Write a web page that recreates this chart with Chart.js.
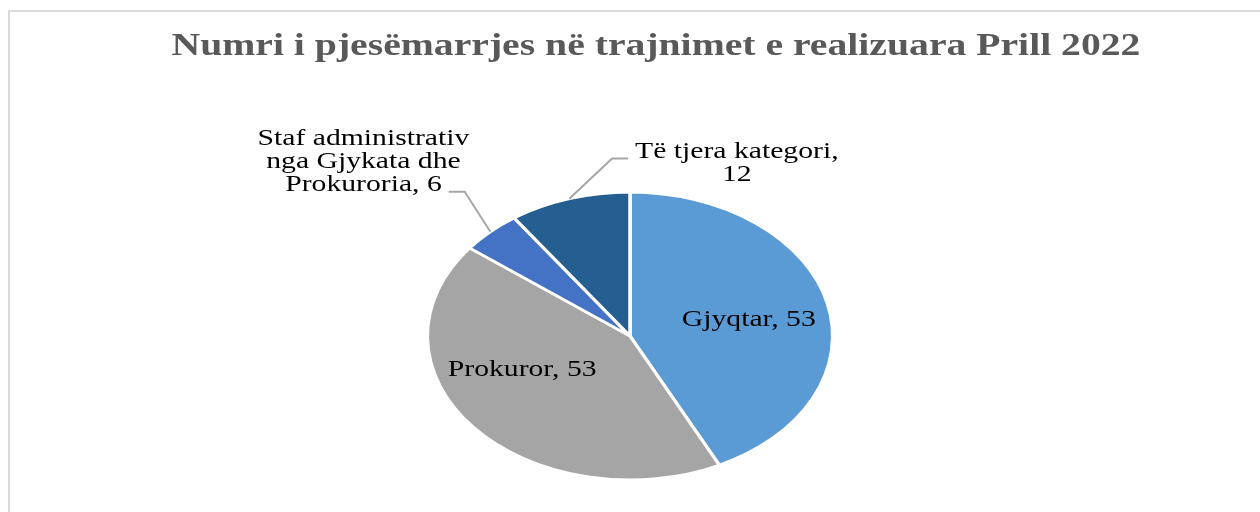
<!DOCTYPE html>
<html>
<head>
<meta charset="utf-8">
<script src="https://cdn.jsdelivr.net/npm/chart.js@4"></script>
<style>
  html, body { margin: 0; padding: 0; background: #fff; }
  canvas { display: block; }
</style>
</head>
<body>
<canvas id="chart" width="1260" height="512"></canvas>
<script>
const chartTitle = "Numri i pjesëmarrjes në trajnimet e realizuara Prill 2022";
const categories = ["Gjyqtar", "Prokuror", "Staf administrativ nga Gjykata dhe Prokuroria", "Të tjera kategori"];
const participants = [53, 53, 6, 12];
const sliceColors = ["#5B9BD5", "#A5A5A5", "#4472C4", "#255E91"];

// label text, split in lines the way the original wraps them
const labelLines = [
  [`${categories[0]}, ${participants[0]}`],
  [`${categories[1]}, ${participants[1]}`],
  ["Staf administrativ", "nga Gjykata dhe", `Prokuroria, ${participants[2]}`],
  [`${categories[3]},`, `${participants[3]}`],
];

const STRETCH = 1.41; // the original pie is drawn wider than tall

const serif = "'Liberation Serif', 'Times New Roman', serif";

function drawScaledText(ctx, text, x, y, sx) {
  ctx.save();
  ctx.translate(x, y);
  ctx.scale(sx, 1);
  ctx.fillText(text, 0, 0);
  ctx.restore();
}

const ellipsePie = {
  id: "ellipsePie",
  beforeDraw(chart) {
    const ctx = chart.ctx;
    ctx.save();
    ctx.strokeStyle = "#d9d9d9";
    ctx.lineWidth = 2;
    ctx.strokeRect(9, 11, chart.width + 20, chart.height + 20);
    ctx.restore();
  },
  beforeDatasetsDraw(chart) {
    const arc = chart.getDatasetMeta(0).data[0];
    const ctx = chart.ctx;
    ctx.save();
    ctx.translate(arc.x, 0);
    ctx.scale(STRETCH, 1);
    ctx.translate(-arc.x, 0);
  },
  afterDatasetsDraw(chart) {
    chart.ctx.restore();
  },
  afterDraw(chart, args, opts) {
    const ctx = chart.ctx;
    const arcs = chart.getDatasetMeta(0).data;
    const cx = arcs[0].x, cy = arcs[0].y;
    const ry = arcs[0].outerRadius, rx = ry * STRETCH;

    // title
    ctx.save();
    ctx.fillStyle = "#595959";
    ctx.font = `bold 32px ${serif}`;
    ctx.textAlign = "center";
    ctx.textBaseline = "alphabetic";
    drawScaledText(ctx, chartTitle, opts.titleX, opts.titleY, 1.24);
    ctx.restore();

    // data labels
    ctx.save();
    ctx.font = `23px ${serif}`;
    ctx.fillStyle = "#000";
    ctx.textAlign = "center";
    ctx.textBaseline = "alphabetic";
    const sx = 1.29;
    opts.place.forEach((p, i) => {
      const lines = labelLines[i];
      const tx = cx + p.x * rx;
      const ty = cy + p.y * ry;
      lines.forEach((line, j) => {
        drawScaledText(ctx, line, tx, ty + j * opts.lineHeight, sx);
      });
      if (p.leaderLine === undefined) return;
      const a = (arcs[i].startAngle + arcs[i].endAngle) / 2;
      const ex = cx + Math.cos(a) * rx;
      const ey = cy + Math.sin(a) * ry;
      const w = ctx.measureText(lines[p.leaderLine]).width * sx;
      const ly = ty + p.leaderLine * opts.lineHeight + 1;
      const dir = p.side === "right" ? 1 : -1;
      const endX = tx + dir * (w / 2 + 7);
      const elbowX = endX + dir * 16;
      ctx.save();
      ctx.strokeStyle = "#a6a6a6";
      ctx.lineWidth = 2;
      ctx.beginPath();
      ctx.moveTo(endX, ly);
      ctx.lineTo(elbowX, ly);
      ctx.lineTo(ex, ey);
      ctx.stroke();
      ctx.restore();
    });
    ctx.restore();
  },
};

new Chart(document.getElementById("chart"), {
  type: "pie",
  data: {
    labels: categories,
    datasets: [
      {
        data: participants,
        backgroundColor: sliceColors,
        borderColor: "#ffffff",
        borderWidth: 2.5,
      },
    ],
  },
  options: {
    responsive: false,
    animation: false,
    events: [],
    layout: {
      padding: { top: 191, bottom: 31, left: 0, right: 0 },
    },
    plugins: {
      legend: { display: false },
      tooltip: { enabled: false },
      title: { display: false },
      ellipsePie: {
        titleX: 656,
        titleY: 55,
        lineHeight: 23,
        place: [
          { x: 0.586, y: -0.069 },
          { x: -0.532, y: 0.276 },
          { x: -1.315, y: -1.33, leaderLine: 2, side: "right" },
          { x: 0.527, y: -1.241, leaderLine: 0, side: "left" },
        ],
      },
    },
  },
  plugins: [ellipsePie],
});
</script>
</body>
</html>
